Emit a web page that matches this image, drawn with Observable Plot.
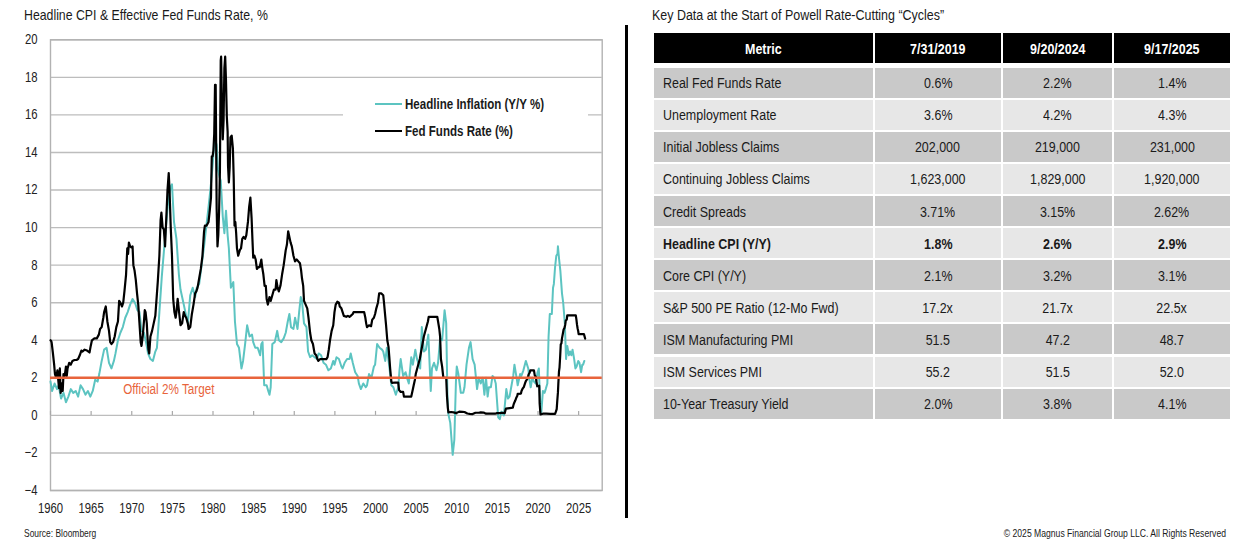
<!DOCTYPE html>
<html><head><meta charset="utf-8">
<script src="https://cdn.jsdelivr.net/npm/d3@7"></script>
<script src="https://cdn.jsdelivr.net/npm/@observablehq/plot@0.6"></script>
<style>
body{margin:0;width:1252px;height:545px;position:relative;background:#fff;overflow:hidden;
 font-family:"Liberation Sans",Arial,sans-serif;color:#1a1a1a}
.abs{position:absolute;white-space:nowrap}
.n{display:inline-block;transform:scaleX(0.82);transform-origin:left center;white-space:nowrap}
.nr{transform-origin:right center}
.nc{transform-origin:center center}
#legend{position:absolute;left:343px;top:87px;width:245px;height:60px;background:#fff}
.lg{position:absolute;left:32px;font-weight:bold;font-size:14.1px;line-height:16px;display:flex;align-items:center}
.lg span.sw{display:inline-block;width:27px;height:2.2px;margin-right:3px}
#table{position:absolute;left:653.5px;top:33.3px;display:grid;
 grid-template-columns:219.5px 125.7px 109.3px 116px;column-gap:2px;row-gap:2.1px}
#table > div{height:30px;display:flex;align-items:center;justify-content:center;font-size:15.2px;white-space:nowrap}
#table > div.h{background:#000;color:#fff;font-weight:bold;margin-bottom:2.3px}
#table > div.m{justify-content:flex-start;padding-left:9.7px}
#table > div.dark{background:#c9c9c9}
#table > div.light{background:#e7e7e7}
#table > div.b{font-weight:bold}
</style></head><body>
<div class="abs" style="left:24px;top:6px;font-size:15px;line-height:18px"><span class="n">Headline CPI &amp; Effective Fed Funds Rate, %</span></div>
<div id="chart" class="abs" style="left:0;top:28px"></div>
<div id="legend"></div>
<div class="abs" style="left:624.5px;top:25px;width:3px;height:493px;background:#000"></div>
<div class="abs" style="left:651.5px;top:6px;font-size:15.2px;line-height:18px"><span class="n">Key Data at the Start of Powell Rate-Cutting “Cycles”</span></div>
<div id="table"></div>
<div class="abs" style="left:23.5px;top:527px;font-size:10.3px;line-height:13px"><span class="n">Source: Bloomberg</span></div>
<div class="abs" style="right:26px;top:527px;font-size:10.5px;line-height:13px"><span class="n nr">© 2025 Magnus Financial Group LLC. All Rights Reserved</span></div>
<script>
// ---------- chart data ----------
const yearTicks = [1960,1965,1970,1975,1980,1985,1990,1995,2000,2005,2010,2015,2020,2025];
const valueTicks = [-4,-2,0,2,4,6,8,10,12,14,16,18,20];
const seriesNames = ["Headline Inflation (Y/Y %)", "Fed Funds Rate (%)"];
const seriesColors = ["#5cc4c1", "#000000"];
const targets = [{label: "Official 2% Target", value: 2, labelYear: 1968.94}];

// Headline CPI, Y/Y % : [year, value]
const headlineCpi = [
[1960.0,1.8],[1960.2,1.3],[1960.5,1.7],[1960.8,1.4],[1961.0,1.6],[1961.3,0.9],[1961.6,1.2],[1961.9,0.7],
[1962.2,1.0],[1962.5,1.4],[1962.8,1.2],[1963.1,1.3],[1963.4,1.0],[1963.7,1.6],[1964.0,1.4],[1964.3,1.1],
[1964.6,1.3],[1964.9,1.0],[1965.2,1.3],[1965.5,1.9],[1965.8,1.8],[1966.0,2.2],[1966.3,2.9],[1966.6,3.5],
[1966.9,3.6],[1967.2,2.8],[1967.5,2.5],[1967.8,2.9],[1968.0,3.3],[1968.3,4.0],[1968.6,4.4],[1968.9,4.7],
[1969.2,5.2],[1969.5,5.5],[1969.8,5.9],[1970.1,6.2],[1970.4,6.0],[1970.7,5.6],[1970.95,5.5],[1971.2,4.5],
[1971.5,4.4],[1971.8,3.8],[1972.0,3.3],[1972.3,3.0],[1972.6,2.9],[1972.9,3.4],[1973.1,3.6],[1973.4,5.5],
[1973.7,7.4],[1973.95,8.7],[1974.2,10.0],[1974.5,11.5],[1974.8,12.2],[1974.95,12.3],[1975.2,10.3],[1975.5,9.4],
[1975.8,7.5],[1976.0,6.7],[1976.3,6.1],[1976.6,5.5],[1976.9,4.9],[1977.2,6.4],[1977.5,6.8],[1977.8,6.3],
[1978.0,6.8],[1978.3,7.0],[1978.6,8.0],[1978.9,9.0],[1979.1,9.8],[1979.4,10.9],[1979.7,12.1],[1979.95,13.3],
[1980.2,14.8],[1980.45,14.4],[1980.6,13.1],[1980.8,12.7],[1980.95,12.5],[1981.2,10.6],[1981.4,9.7],[1981.6,10.9],
[1981.8,9.6],[1981.95,8.9],[1982.2,6.8],[1982.5,7.1],[1982.7,5.0],[1982.95,3.8],[1983.2,3.6],[1983.5,2.5],
[1983.7,2.9],[1983.95,3.8],[1984.2,4.8],[1984.5,4.2],[1984.8,4.3],[1984.95,3.9],[1985.2,3.6],[1985.5,3.6],
[1985.8,3.2],[1985.95,3.8],[1986.1,3.9],[1986.3,1.6],[1986.6,1.6],[1986.8,1.3],[1986.95,1.1],[1987.1,1.5],
[1987.3,3.8],[1987.6,3.9],[1987.9,4.5],[1988.1,4.0],[1988.4,3.9],[1988.7,4.1],[1988.95,4.4],[1989.2,5.0],
[1989.4,5.4],[1989.6,4.7],[1989.9,4.6],[1990.1,5.2],[1990.4,4.6],[1990.6,5.5],[1990.8,6.3],[1990.95,6.1],
[1991.2,4.9],[1991.5,4.7],[1991.7,3.4],[1991.95,3.1],[1992.2,3.2],[1992.5,3.1],[1992.8,3.0],[1993.0,3.3],
[1993.3,3.2],[1993.6,2.8],[1993.9,2.7],[1994.2,2.4],[1994.5,2.5],[1994.8,2.9],[1994.95,2.7],[1995.2,3.1],
[1995.5,3.0],[1995.8,2.6],[1995.95,2.5],[1996.2,2.8],[1996.5,3.0],[1996.8,3.0],[1996.95,3.3],[1997.2,2.8],
[1997.5,2.3],[1997.8,2.1],[1997.95,1.7],[1998.2,1.4],[1998.5,1.7],[1998.8,1.5],[1998.95,1.6],[1999.2,2.2],
[1999.5,2.0],[1999.8,2.6],[1999.95,2.7],[2000.2,3.8],[2000.5,3.6],[2000.8,3.5],[2000.95,3.4],[2001.2,2.9],
[2001.4,3.6],[2001.7,2.6],[2001.95,1.6],[2002.2,1.5],[2002.5,1.1],[2002.8,1.5],[2002.95,2.4],[2003.1,3.0],
[2003.4,2.1],[2003.7,2.3],[2003.95,1.9],[2004.1,1.7],[2004.4,3.1],[2004.6,2.7],[2004.9,3.5],[2005.1,3.0],
[2005.5,2.5],[2005.7,4.7],[2005.95,3.4],[2006.2,3.5],[2006.5,4.3],[2006.8,1.3],[2006.95,2.5],[2007.2,2.8],
[2007.5,2.4],[2007.7,2.8],[2007.95,4.1],[2008.2,4.0],[2008.5,5.6],[2008.7,4.9],[2008.85,1.1],[2008.95,0.1],
[2009.2,-0.4],[2009.5,-2.1],[2009.7,-1.3],[2009.9,1.8],[2010.0,2.6],[2010.2,2.2],[2010.5,1.2],[2010.8,1.2],
[2010.95,1.5],[2011.2,2.7],[2011.5,3.6],[2011.7,3.9],[2011.95,3.0],[2012.2,2.7],[2012.5,1.4],[2012.7,2.0],
[2012.95,1.7],[2013.2,2.0],[2013.4,1.1],[2013.6,2.0],[2013.8,1.0],[2013.95,1.5],[2014.2,1.5],[2014.4,2.1],
[2014.6,2.0],[2014.8,1.7],[2014.95,0.8],[2015.1,-0.1],[2015.3,-0.2],[2015.5,0.2],[2015.8,0.0],[2015.95,0.7],
[2016.1,1.4],[2016.3,0.9],[2016.5,1.0],[2016.7,1.5],[2016.95,2.1],[2017.1,2.7],[2017.4,1.9],[2017.5,1.6],
[2017.8,2.2],[2017.95,2.1],[2018.2,2.4],[2018.5,2.9],[2018.8,2.5],[2018.95,1.9],[2019.1,1.5],[2019.3,2.0],
[2019.5,1.8],[2019.7,1.7],[2019.95,2.3],[2020.1,2.5],[2020.3,0.3],[2020.4,0.1],[2020.6,1.3],[2020.8,1.2],
[2020.95,1.4],[2021.15,1.7],[2021.3,4.2],[2021.45,5.4],[2021.7,5.4],[2021.85,6.8],[2021.95,7.0],[2022.1,7.9],
[2022.25,8.5],[2022.4,8.6],[2022.45,9.0],[2022.6,8.3],[2022.75,7.7],[2022.95,6.5],[2023.1,6.0],[2023.3,4.9],
[2023.45,3.0],[2023.6,3.7],[2023.8,3.2],[2023.95,3.4],[2024.1,3.2],[2024.25,3.5],[2024.45,3.0],[2024.6,2.5],
[2024.75,2.6],[2024.95,2.9],[2025.1,2.8],[2025.3,2.3],[2025.45,2.7],[2025.55,2.7],[2025.7,2.9]
];

// Effective Fed Funds Rate, % : [year, value]
const fedFunds = [
[1960.0,4.0],[1960.1,3.95],[1960.15,3.85],[1960.3,3.3],[1960.45,2.7],[1960.55,2.2],[1960.7,2.0],[1960.85,2.4],[1960.95,1.9],
[1961.05,1.45],[1961.15,2.5],[1961.25,1.2],[1961.4,1.7],[1961.5,1.3],[1961.6,2.2],[1961.75,2.1],[1961.9,2.6],
[1962.0,2.1],[1962.1,2.5],[1962.3,2.8],[1962.5,2.7],[1962.7,2.9],[1962.95,2.95],
[1963.2,2.95],[1963.4,3.0],[1963.6,3.2],[1963.8,3.45],[1963.95,3.4],
[1964.2,3.5],[1964.5,3.45],[1964.8,3.35],[1964.95,3.7],
[1965.1,4.0],[1965.4,4.1],[1965.7,4.1],[1965.95,4.3],
[1966.1,4.6],[1966.3,4.7],[1966.5,5.2],[1966.6,5.5],[1966.8,5.8],[1966.9,5.4],[1967.0,5.0],[1967.2,4.5],[1967.35,3.9],[1967.5,3.8],[1967.7,3.9],[1967.9,4.2],
[1968.1,4.7],[1968.3,5.0],[1968.45,6.1],[1968.6,6.0],[1968.8,5.8],[1968.95,6.0],
[1969.1,6.6],[1969.3,7.5],[1969.45,8.9],[1969.55,8.6],[1969.65,9.2],[1969.8,9.0],[1969.95,8.95],
[1970.1,9.0],[1970.2,8.0],[1970.35,7.7],[1970.5,7.2],[1970.65,6.5],[1970.8,5.9],[1970.95,4.9],
[1971.1,3.9],[1971.2,3.7],[1971.35,4.2],[1971.5,5.0],[1971.6,5.6],[1971.7,5.5],[1971.85,4.9],[1971.95,4.1],
[1972.05,3.5],[1972.15,3.3],[1972.3,4.2],[1972.5,4.5],[1972.7,4.9],[1972.9,5.3],
[1973.0,5.9],[1973.2,7.1],[1973.4,8.5],[1973.55,10.4],[1973.65,10.8],[1973.8,10.0],[1973.95,9.9],
[1974.1,9.0],[1974.25,10.5],[1974.4,12.0],[1974.55,12.9],[1974.65,12.0],[1974.8,10.0],[1974.95,8.5],
[1975.1,6.2],[1975.25,5.5],[1975.4,5.2],[1975.5,5.5],[1975.65,6.2],[1975.75,5.8],[1975.9,5.2],
[1976.0,4.8],[1976.2,4.9],[1976.4,5.5],[1976.55,5.3],[1976.7,5.2],[1976.9,4.9],[1977.0,4.6],
[1977.2,4.7],[1977.4,5.4],[1977.6,5.9],[1977.8,6.5],[1977.95,6.6],
[1978.1,6.8],[1978.3,7.3],[1978.5,7.8],[1978.7,8.5],[1978.9,9.8],[1979.0,10.1],
[1979.2,10.1],[1979.45,10.3],[1979.6,10.9],[1979.75,11.6],[1979.85,13.8],[1979.95,13.8],
[1980.05,14.1],[1980.15,15.0],[1980.25,17.6],[1980.33,17.6],[1980.45,11.0],[1980.55,9.0],[1980.65,9.6],[1980.75,10.9],[1980.85,13.0],[1980.95,18.9],
[1981.0,19.1],[1981.1,16.6],[1981.2,14.7],[1981.3,15.7],[1981.4,18.5],[1981.5,19.1],[1981.6,17.8],[1981.7,15.9],[1981.8,15.1],[1981.85,13.3],[1981.95,12.4],
[1982.05,13.2],[1982.15,14.8],[1982.3,14.9],[1982.45,14.2],[1982.55,12.6],[1982.65,10.1],[1982.75,10.3],[1982.85,9.7],[1982.95,8.9],
[1983.1,8.5],[1983.3,8.8],[1983.45,8.9],[1983.6,9.4],[1983.75,9.5],[1983.95,9.4],
[1984.1,9.6],[1984.3,10.3],[1984.45,11.1],[1984.6,11.6],[1984.75,10.5],[1984.85,9.4],[1984.95,8.4],
[1985.1,8.5],[1985.25,8.3],[1985.4,7.8],[1985.6,7.9],[1985.75,7.9],[1985.95,8.3],
[1986.05,7.9],[1986.2,7.5],[1986.35,6.9],[1986.5,6.9],[1986.6,6.2],[1986.75,5.9],[1986.95,6.3],
[1987.1,6.1],[1987.3,6.4],[1987.5,6.7],[1987.7,6.7],[1987.8,7.2],[1987.95,6.8],
[1988.1,6.6],[1988.3,6.9],[1988.5,7.5],[1988.7,8.0],[1988.95,8.8],
[1989.1,9.1],[1989.25,9.8],[1989.4,9.5],[1989.55,9.2],[1989.7,9.0],[1989.9,8.5],
[1990.1,8.2],[1990.3,8.3],[1990.5,8.2],[1990.7,8.1],[1990.85,7.7],[1990.95,7.3],
[1991.1,6.9],[1991.2,6.1],[1991.4,5.9],[1991.6,5.7],[1991.75,5.2],[1991.95,4.4],
[1992.1,4.0],[1992.3,3.8],[1992.5,3.3],[1992.7,3.2],[1992.85,3.0],[1992.95,2.9],
[1993.2,3.0],[1993.5,3.0],[1993.8,3.0],[1993.95,3.0],
[1994.1,3.1],[1994.25,3.5],[1994.4,4.0],[1994.6,4.5],[1994.8,4.8],[1994.95,5.5],
[1995.1,5.9],[1995.3,6.05],[1995.5,6.0],[1995.6,5.8],[1995.8,5.7],[1995.95,5.5],
[1996.1,5.3],[1996.4,5.25],[1996.6,5.3],[1996.8,5.25],[1996.95,5.3],
[1997.2,5.4],[1997.3,5.5],[1997.6,5.5],[1997.95,5.5],
[1998.3,5.5],[1998.6,5.5],[1998.75,5.2],[1998.85,4.9],[1998.95,4.7],
[1999.2,4.8],[1999.45,4.75],[1999.6,5.1],[1999.8,5.2],[1999.95,5.4],
[2000.1,5.7],[2000.3,6.0],[2000.45,6.5],[2000.7,6.5],[2000.95,6.4],
[2001.05,5.98],[2001.15,5.5],[2001.3,4.8],[2001.45,4.0],[2001.6,3.65],[2001.7,3.1],[2001.8,2.5],[2001.95,1.8],
[2002.05,1.73],[2002.4,1.75],[2002.8,1.74],[2002.9,1.35],[2003.1,1.25],[2003.4,1.25],[2003.5,1.0],[2003.9,1.0],[2004.4,1.0],
[2004.55,1.3],[2004.7,1.6],[2004.85,1.9],[2004.95,2.2],
[2005.2,2.6],[2005.45,3.0],[2005.7,3.6],[2005.95,4.2],
[2006.2,4.6],[2006.45,5.0],[2006.55,5.25],[2007.6,5.25],[2007.7,5.0],[2007.85,4.6],[2007.95,4.2],
[2008.05,3.0],[2008.2,2.6],[2008.35,2.0],[2008.7,2.0],[2008.8,1.0],[2008.9,0.4],[2008.97,0.16],
[2009.3,0.18],[2009.6,0.16],[2009.95,0.12],[2010.3,0.2],[2010.7,0.19],[2010.95,0.18],
[2011.3,0.1],[2011.6,0.08],[2011.95,0.07],[2012.3,0.14],[2012.7,0.14],[2012.95,0.16],
[2013.3,0.15],[2013.6,0.09],[2013.95,0.09],[2014.3,0.09],[2014.7,0.09],[2014.95,0.12],
[2015.3,0.12],[2015.6,0.14],[2015.9,0.12],[2015.97,0.24],[2016.05,0.36],[2016.5,0.39],[2016.9,0.41],[2016.97,0.54],
[2017.05,0.65],[2017.2,0.79],[2017.3,0.91],[2017.45,1.04],[2017.5,1.15],[2017.9,1.16],[2017.97,1.3],
[2018.1,1.42],[2018.25,1.51],[2018.4,1.70],[2018.5,1.82],[2018.7,1.95],[2018.85,2.19],[2018.97,2.27],
[2019.05,2.4],[2019.5,2.4],[2019.6,2.13],[2019.75,2.04],[2019.8,1.83],[2019.9,1.55],[2020.15,1.58],
[2020.2,0.65],[2020.3,0.05],[2020.6,0.09],[2021.0,0.09],[2021.5,0.08],[2022.1,0.08],[2022.2,0.2],[2022.3,0.33],
[2022.37,0.77],[2022.45,1.21],[2022.5,1.68],[2022.58,2.33],[2022.65,2.56],[2022.72,3.08],[2022.8,3.78],[2022.88,3.83],[2022.95,4.1],
[2023.05,4.33],[2023.15,4.57],[2023.25,4.65],[2023.35,4.83],[2023.42,5.06],[2023.5,5.08],[2023.55,5.12],[2023.6,5.33],
[2024.65,5.33],[2024.72,5.13],[2024.8,4.83],[2024.87,4.64],[2024.95,4.48],[2025.0,4.33],[2025.65,4.33],[2025.72,4.22],[2025.8,4.09]
];

// ---------- table data ----------
const tableHeaders = ["Metric", "7/31/2019", "9/20/2024", "9/17/2025"];
const metrics = ["Real Fed Funds Rate","Unemployment Rate","Initial Jobless Claims","Continuing Jobless Claims","Credit Spreads","Headline CPI (Y/Y)","Core CPI (Y/Y)","S&P 500 PE Ratio (12-Mo Fwd)","ISM Manufacturing PMI","ISM Services PMI","10-Year Treasury Yield"];
const values2019 = ["0.6%","3.6%","202,000","1,623,000","3.71%","1.8%","2.1%","17.2x","51.5","55.2","2.0%"];
const values2024 = ["2.2%","4.2%","219,000","1,829,000","3.15%","2.6%","3.2%","21.7x","47.2","51.5","3.8%"];
const values2025 = ["1.4%","4.3%","231,000","1,920,000","2.62%","2.9%","3.1%","22.5x","48.7","52.0","4.1%"];
const boldMetrics = ["Headline CPI (Y/Y)"];

// ---------- chart ----------
const fontFam = '"Liberation Sans",Arial,sans-serif';
const orange = "#e8643c";
const chart = Plot.plot({
  width: 620, height: 492,
  marginTop: 11.3, marginLeft: 50, marginRight: 18.3, marginBottom: 30,
  x: {domain: [1960, 2027.9]},
  y: {domain: [-4, 20]},
  style: {fontFamily: fontFam, fontSize: "13.5px", color: "#222", background: "transparent"},
  marks: [
    Plot.ruleY(valueTicks, {stroke: "#bdbdbd", strokeWidth: 1.4}),
    Plot.frame({stroke: "#b2b2b2", strokeWidth: 1.4}),
    Plot.ruleX(yearTicks, {x: d => d, y1: 0, y2: 0, insetTop: -4, stroke: "#a8a8a8", strokeWidth: 1.2}),
    Plot.axisY(valueTicks, {tickSize: 0, tickPadding: 13, fontSize: 13.8}),
    Plot.axisX(yearTicks, {tickSize: 0, tickPadding: 13, fontSize: 13.8, tickFormat: d => String(d)}),
    Plot.line(headlineCpi, {x: d => d[0], y: d => d[1], stroke: seriesColors[0], strokeWidth: 2}),
    Plot.line(fedFunds, {x: d => d[0], y: d => d[1], stroke: seriesColors[1], strokeWidth: 2.2}),
    Plot.ruleY(targets, {y: d => d.value, stroke: orange, strokeWidth: 2.5}),
    Plot.text(targets, {x: d => d.labelYear, y: d => d.value, text: d => d.label, textAnchor: "start", dy: 12, fill: orange, fontSize: 14.3})
  ]
});
// narrow (condensed) look for all SVG text: compress horizontally around each anchor
chart.querySelectorAll("text").forEach(t => {
  const tr = t.getAttribute("transform") || "";
  t.setAttribute("transform", tr + " scale(0.82,1)");
});
document.getElementById("chart").appendChild(chart);

// legend
const lg = document.getElementById("legend");
seriesNames.forEach((n, i) => {
  const row = document.createElement("div");
  row.className = "lg";
  row.style.top = (9 + i * 26.7) + "px";
  const sw = document.createElement("span");
  sw.className = "sw"; sw.style.background = seriesColors[i];
  row.appendChild(sw);
  const tx = document.createElement("span");
  tx.className = "n"; tx.textContent = n;
  row.appendChild(tx);
  lg.appendChild(row);
});

// table
const tb = document.getElementById("table");
function cell(text, cls, center) {
  const d = document.createElement("div"); d.className = cls;
  const s = document.createElement("span"); s.className = center ? "n nc" : "n"; s.textContent = text;
  d.appendChild(s); tb.appendChild(d);
}
tableHeaders.forEach(h => cell(h, "h", true));
metrics.forEach((m, i) => {
  const shade = i % 2 === 0 ? "dark" : "light";
  const b = boldMetrics.includes(m) ? " b" : "";
  cell(m, "m " + shade + b, false);
  cell(values2019[i], shade + b, true);
  cell(values2024[i], shade + b, true);
  cell(values2025[i], shade + b, true);
});
</script>
</body></html>
